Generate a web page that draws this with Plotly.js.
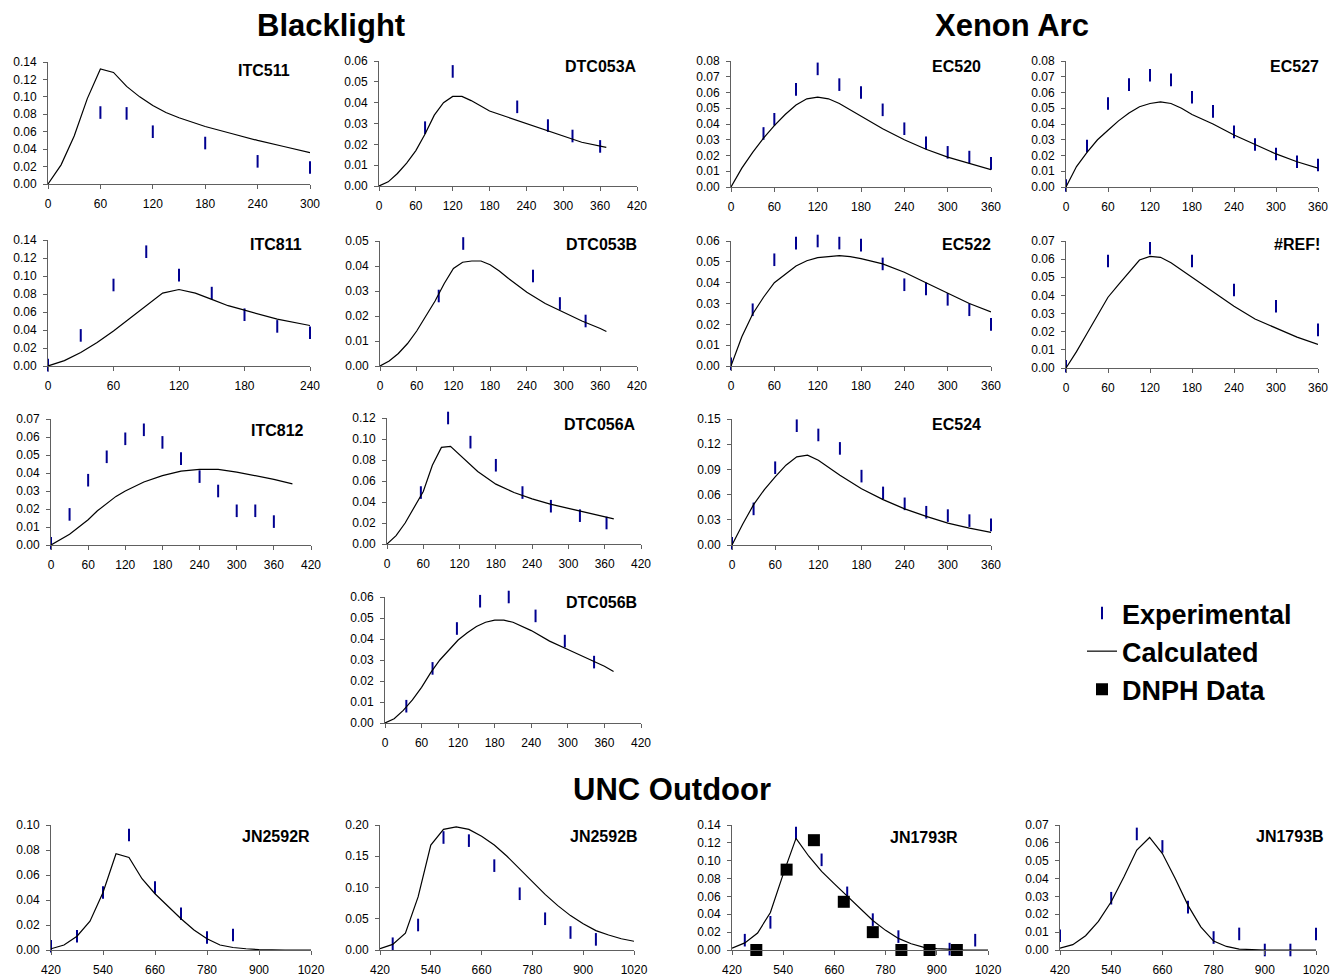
<!DOCTYPE html>
<html>
<head>
<meta charset="utf-8">
<script src="https://cdn.plot.ly/plotly-3.0.1.min.js"></script>
<style>html,body{margin:0;padding:0;background:#fff}#chart{width:1330px;height:977px}</style>
</head>
<body>
<div id="chart"></div>
<script>
// ---------------- DATA ----------------
// Blacklight
const ITC511_CALC_T = [0,15,30,45,60,75,90,105,120,135,150,180,210,240,270,300];
const ITC511_CALC   = [0,0.022,0.055,0.098,0.132,0.128,0.112,0.100,0.090,0.082,0.076,0.066,0.058,0.050,0.043,0.036];
const ITC511_EXP_T  = [60,90,120,180,240,300];
const ITC511_EXP    = [0.082,0.081,0.060,0.047,0.026,0.019];

const DTC053A_CALC_T = [0,15,30,45,60,75,90,105,120,135,150,180,210,240,270,300,330,370];
const DTC053A_CALC   = [0,0.002,0.006,0.011,0.017,0.025,0.034,0.040,0.043,0.043,0.041,0.036,0.033,0.030,0.027,0.024,0.021,0.0185];
const DTC053A_EXP_T  = [75,120,225,275,315,360];
const DTC053A_EXP    = [0.028,0.055,0.038,0.029,0.024,0.019];

const ITC811_CALC_T = [0,15,30,45,60,75,90,105,120,135,150,165,180,210,240];
const ITC811_CALC   = [0,0.006,0.015,0.026,0.039,0.053,0.068,0.081,0.085,0.081,0.074,0.067,0.062,0.052,0.045];
const ITC811_EXP_T  = [0,30,60,90,120,150,180,210,240];
const ITC811_EXP    = [0.001,0.034,0.090,0.127,0.101,0.081,0.057,0.044,0.037];

const DTC053B_CALC_T = [0,15,30,45,60,75,90,105,120,135,150,165,180,195,210,240,270,300,330,360,370];
const DTC053B_CALC   = [0,0.002,0.005,0.009,0.014,0.020,0.026,0.033,0.039,0.0415,0.042,0.042,0.0405,0.038,0.035,0.0295,0.025,0.0215,0.018,0.015,0.0138];
const DTC053B_EXP_T  = [96,136,250,294,336];
const DTC053B_EXP    = [0.028,0.049,0.036,0.025,0.018];

const ITC812_CALC_T = [0,15,30,45,60,75,90,105,120,150,180,210,240,270,300,330,360,390];
const ITC812_CALC   = [0,0.003,0.006,0.010,0.014,0.019,0.023,0.027,0.030,0.035,0.0385,0.041,0.042,0.042,0.0405,0.0385,0.0365,0.034];
const ITC812_EXP_T  = [0,30,60,90,120,150,180,210,240,270,300,330,360];
const ITC812_EXP    = [0.001,0.017,0.036,0.049,0.059,0.064,0.057,0.048,0.038,0.030,0.019,0.019,0.013];

const DTC056A_CALC_T = [0,15,30,45,60,75,90,105,120,135,150,180,210,240,270,300,330,360,375];
const DTC056A_CALC   = [0,0.008,0.020,0.035,0.050,0.075,0.092,0.093,0.085,0.077,0.069,0.057,0.049,0.043,0.038,0.034,0.030,0.026,0.024];
const DTC056A_EXP_T  = [56,101,138,180,224,271,319,363];
const DTC056A_EXP    = [0.049,0.120,0.097,0.075,0.049,0.036,0.027,0.020];

const DTC056B_CALC_T = [0,15,30,45,60,75,90,105,120,135,150,165,180,195,210,240,270,300,330,360,375];
const DTC056B_CALC   = [0,0.002,0.006,0.011,0.017,0.024,0.030,0.035,0.0395,0.043,0.046,0.048,0.049,0.049,0.048,0.044,0.039,0.035,0.031,0.027,0.0245];
const DTC056B_EXP_T  = [35,78,118,156,203,247,295,343];
const DTC056B_EXP    = [0.008,0.026,0.045,0.058,0.060,0.051,0.039,0.029];

// Xenon Arc
const EC520_CALC_T = [0,15,30,45,60,75,90,105,120,135,150,165,180,210,240,270,300,330,360];
const EC520_CALC   = [0,0.012,0.022,0.031,0.039,0.046,0.052,0.056,0.057,0.056,0.053,0.049,0.045,0.037,0.030,0.024,0.019,0.015,0.011];
const EC520_EXP_T  = [45,60,90,120,150,180,210,240,270,300,330,360];
const EC520_EXP    = [0.034,0.043,0.062,0.075,0.065,0.060,0.049,0.037,0.028,0.022,0.019,0.015];

const EC527_CALC_T = [0,15,30,45,60,75,90,105,120,135,150,165,180,210,240,270,300,330,360];
const EC527_CALC   = [0,0.013,0.022,0.030,0.036,0.042,0.047,0.051,0.053,0.054,0.053,0.050,0.046,0.040,0.033,0.027,0.021,0.016,0.012];
const EC527_EXP_T  = [0,30,60,90,120,150,180,210,240,270,300,330,360];
const EC527_EXP    = [0.001,0.026,0.053,0.065,0.071,0.068,0.057,0.048,0.035,0.027,0.021,0.016,0.014];

const EC522_CALC_T = [0,15,30,45,60,75,90,105,120,135,150,165,180,210,240,270,300,330,360];
const EC522_CALC   = [0,0.014,0.025,0.033,0.040,0.044,0.048,0.0505,0.052,0.0525,0.053,0.0525,0.0515,0.049,0.045,0.040,0.035,0.030,0.026];
const EC522_EXP_T  = [0,30,60,90,120,150,180,210,240,270,300,330,360];
const EC522_EXP    = [0.001,0.027,0.051,0.059,0.060,0.059,0.058,0.049,0.039,0.037,0.032,0.027,0.020];

const REF_CALC_T = [0,15,30,45,60,75,90,105,120,135,150,165,180,210,240,270,300,330,360];
const REF_CALC   = [0,0.009,0.019,0.029,0.039,0.046,0.053,0.0595,0.0615,0.061,0.058,0.054,0.050,0.042,0.034,0.027,0.022,0.017,0.013];
const REF_EXP_T  = [0,60,120,180,240,300,360];
const REF_EXP    = [0.001,0.059,0.066,0.059,0.043,0.034,0.021];

const EC524_CALC_T = [0,15,30,45,60,75,90,105,120,135,150,180,210,240,270,300,330,360];
const EC524_CALC   = [0,0.025,0.048,0.066,0.081,0.095,0.105,0.107,0.101,0.092,0.083,0.067,0.054,0.043,0.034,0.026,0.020,0.015];
const EC524_EXP_T  = [0,30,60,90,120,150,180,210,240,270,300,330,360];
const EC524_EXP    = [0.002,0.043,0.092,0.142,0.131,0.115,0.082,0.062,0.049,0.039,0.035,0.029,0.024];

// UNC Outdoor
const JN2592R_CALC_T = [420,450,480,510,540,570,600,630,660,690,720,750,780,810,840,870,900,960,1020];
const JN2592R_CALC   = [0.001,0.004,0.011,0.023,0.046,0.077,0.074,0.057,0.045,0.035,0.025,0.016,0.009,0.004,0.002,0.001,0.0003,0,0];
const JN2592R_EXP_T  = [420,480,540,600,660,720,780,840];
const JN2592R_EXP    = [0.003,0.011,0.046,0.092,0.050,0.029,0.010,0.012];

const JN2592B_CALC_T = [420,450,480,510,540,570,600,630,660,690,720,750,780,810,840,870,900,930,960,990,1020];
const JN2592B_CALC   = [0.002,0.009,0.027,0.085,0.168,0.193,0.197,0.193,0.182,0.168,0.150,0.130,0.109,0.089,0.071,0.055,0.042,0.031,0.024,0.018,0.014];
const JN2592B_EXP_T  = [450,510,570,630,690,750,810,870,930];
const JN2592B_EXP    = [0.010,0.040,0.180,0.175,0.135,0.090,0.050,0.028,0.017];

const JN1793R_CALC_T = [420,450,480,510,540,570,600,630,660,690,720,750,780,810,840,870,900,930,960,1020];
const JN1793R_CALC   = [0.002,0.008,0.019,0.042,0.085,0.125,0.105,0.088,0.074,0.060,0.046,0.033,0.022,0.013,0.007,0.003,0.0015,0.0005,0.0002,0];
const JN1793R_EXP_T  = [450,510,570,630,690,750,810,930,990];
const JN1793R_EXP    = [0.011,0.031,0.131,0.101,0.064,0.034,0.015,0.001,0.011];
const JN1793R_DNPH_T = [477,548,612,682,750,817,883,947];
const JN1793R_DNPH   = [0,0.090,0.123,0.054,0.020,0,0,0];

const JN1793B_CALC_T = [420,450,480,510,540,570,600,630,660,690,720,750,780,810,840,870,900,960,1020];
const JN1793B_CALC   = [0.001,0.003,0.008,0.016,0.027,0.041,0.056,0.063,0.054,0.040,0.025,0.013,0.005,0.002,0.0005,0.0001,0,0,0];
const JN1793B_EXP_T  = [420,540,600,660,720,780,840,900,960,1020];
const JN1793B_EXP    = [0.008,0.029,0.065,0.058,0.024,0.007,0.009,0,0,0.009];

const SECTION_TITLES = ['Blacklight','Xenon Arc','UNC Outdoor'];
const LEGEND_NAMES = ['Experimental','Calculated','DNPH Data'];

// ---------------- LAYOUT HELPERS ----------------
const W = 1330, H = 977;
const px = v => v / W;
const py = v => 1 - v / H;
const FONT = 'Liberation Sans, Arial, Helvetica, sans-serif';
const EXP_COLOR = '#000090';
const AXIS_COLOR = '#606060';

// box: [xLeft, xRight, yBottom, yTop] in pixels; title: [cx, cy] in pixels
const panels = [
  {n:'ITC511', cx:ITC511_CALC_T, cy:ITC511_CALC, ex:ITC511_EXP_T, ey:ITC511_EXP, box:[48,310,184,62], xr:[0,300], yr:[0,0.14], dy:0.02, t:[264,71]},
  {n:'DTC053A', cx:DTC053A_CALC_T, cy:DTC053A_CALC, ex:DTC053A_EXP_T, ey:DTC053A_EXP, box:[379,637,186,61], xr:[0,420], yr:[0,0.06], dy:0.01, t:[601,67]},
  {n:'EC520', cx:EC520_CALC_T, cy:EC520_CALC, ex:EC520_EXP_T, ey:EC520_EXP, box:[731,991,187,61], xr:[0,360], yr:[0,0.08], dy:0.01, t:[956,67]},
  {n:'EC527', cx:EC527_CALC_T, cy:EC527_CALC, ex:EC527_EXP_T, ey:EC527_EXP, box:[1066,1318,187,61], xr:[0,360], yr:[0,0.08], dy:0.01, t:[1294,67]},
  {n:'ITC811', cx:ITC811_CALC_T, cy:ITC811_CALC, ex:ITC811_EXP_T, ey:ITC811_EXP, box:[48,310,366,240], xr:[0,240], yr:[0,0.14], dy:0.02, t:[276,245]},
  {n:'DTC053B', cx:DTC053B_CALC_T, cy:DTC053B_CALC, ex:DTC053B_EXP_T, ey:DTC053B_EXP, box:[380,637,366,241], xr:[0,420], yr:[0,0.05], dy:0.01, t:[601,245]},
  {n:'EC522', cx:EC522_CALC_T, cy:EC522_CALC, ex:EC522_EXP_T, ey:EC522_EXP, box:[731,991,366,241], xr:[0,360], yr:[0,0.06], dy:0.01, t:[966,245]},
  {n:'#REF!', cx:REF_CALC_T, cy:REF_CALC, ex:REF_EXP_T, ey:REF_EXP, box:[1066,1318,368,241], xr:[0,360], yr:[0,0.07], dy:0.01, t:[1297,245]},
  {n:'ITC812', cx:ITC812_CALC_T, cy:ITC812_CALC, ex:ITC812_EXP_T, ey:ITC812_EXP, box:[51,311,545,419], xr:[0,420], yr:[0,0.07], dy:0.01, t:[277,430]},
  {n:'DTC056A', cx:DTC056A_CALC_T, cy:DTC056A_CALC, ex:DTC056A_EXP_T, ey:DTC056A_EXP, box:[387,641,544,418], xr:[0,420], yr:[0,0.12], dy:0.02, t:[600,424]},
  {n:'EC524', cx:EC524_CALC_T, cy:EC524_CALC, ex:EC524_EXP_T, ey:EC524_EXP, box:[732,991,545,419], xr:[0,360], yr:[0,0.15], dy:0.03, t:[956,424]},
  {n:'DTC056B', cx:DTC056B_CALC_T, cy:DTC056B_CALC, ex:DTC056B_EXP_T, ey:DTC056B_EXP, box:[385,641,723,597], xr:[0,420], yr:[0,0.06], dy:0.01, t:[601,602]},
  {n:'JN2592R', cx:JN2592R_CALC_T, cy:JN2592R_CALC, ex:JN2592R_EXP_T, ey:JN2592R_EXP, box:[51,311,950,825], xr:[420,1020], yr:[0,0.10], dy:0.02, t:[276,836], outdoor:true},
  {n:'JN2592B', cx:JN2592B_CALC_T, cy:JN2592B_CALC, ex:JN2592B_EXP_T, ey:JN2592B_EXP, box:[380,634,950,825], xr:[420,1020], yr:[0,0.20], dy:0.05, t:[604,836], outdoor:true},
  {n:'JN1793R', cx:JN1793R_CALC_T, cy:JN1793R_CALC, ex:JN1793R_EXP_T, ey:JN1793R_EXP, dx_:JN1793R_DNPH_T, dy_:JN1793R_DNPH, box:[732,988,950,825], xr:[420,1020], yr:[0,0.14], dy:0.02, t:[924,837], outdoor:true},
  {n:'JN1793B', cx:JN1793B_CALC_T, cy:JN1793B_CALC, ex:JN1793B_EXP_T, ey:JN1793B_EXP, box:[1060,1316,950,825], xr:[420,1020], yr:[0,0.07], dy:0.01, t:[1290,836], outdoor:true}
];

const traces = [];
const layout = {
  width: W, height: H,
  margin: {l:0, r:0, t:0, b:0, pad:0},
  paper_bgcolor: '#ffffff', plot_bgcolor: 'rgba(0,0,0,0)',
  font: {family: FONT, color: '#000'},
  showlegend: true,
  legend: {
    x: px(1082), y: py(589), xanchor: 'left', yanchor: 'top',
    font: {family: FONT, size: 27, weight: 'bold', color: '#000'},
    bgcolor: 'rgba(0,0,0,0)', borderwidth: 0, tracegroupgap: 0, itemwidth: 30
  },
  annotations: [],
  hovermode: false
};

panels.forEach((p, i) => {
  const k = i + 1;
  const xa = k === 1 ? 'x' : 'x' + k;
  const ya = k === 1 ? 'y' : 'y' + k;
  const xName = k === 1 ? 'xaxis' : 'xaxis' + k;
  const yName = k === 1 ? 'yaxis' : 'yaxis' + k;
  const [xl, xrp, yb, yt] = p.box;
  const common = {
    showgrid: false, zeroline: false, showline: true, linecolor: AXIS_COLOR, linewidth: 1,
    ticks: 'outside', ticklen: 4, tickcolor: AXIS_COLOR, tickwidth: 1,
    tickfont: {family: FONT, size: 12, color: '#000'}, fixedrange: true
  };
  layout[xName] = Object.assign({}, common, {
    domain: [px(xl), px(xrp)], anchor: ya, range: p.xr, autorange: false,
    tick0: p.outdoor ? 420 : 0, dtick: p.outdoor ? 120 : 60, tickformat: 'd',
    ticklabelstandoff: 5
  });
  layout[yName] = Object.assign({}, common, {
    domain: [py(yb), py(yt)], anchor: xa, range: p.yr, autorange: false,
    tick0: 0, dtick: p.dy, tickformat: '.2f', ticklabelstandoff: 4
  });
  traces.push({
    type: 'scatter', mode: 'markers', x: p.ex, y: p.ey, xaxis: xa, yaxis: ya,
    name: LEGEND_NAMES[0], legendgroup: 'exp', showlegend: i === 0, cliponaxis: false,
    marker: {symbol: 'line-ns-open', size: 9, color: EXP_COLOR, line: {width: 2, color: EXP_COLOR}}
  });
  traces.push({
    type: 'scatter', mode: 'lines', x: p.cx, y: p.cy, xaxis: xa, yaxis: ya,
    name: LEGEND_NAMES[1], legendgroup: 'calc', showlegend: i === 0, cliponaxis: false,
    line: {color: '#000', width: 1.2}
  });
  if (p.dx_) {
    traces.push({
      type: 'scatter', mode: 'markers', x: p.dx_, y: p.dy_, xaxis: xa, yaxis: ya,
      name: LEGEND_NAMES[2], legendgroup: 'dnph', showlegend: true, cliponaxis: false,
      marker: {symbol: 'square', size: 12, color: '#000'}
    });
  }
  layout.annotations.push({
    text: '<b>' + p.n + '</b>', xref: 'paper', yref: 'paper',
    x: px(p.t[0]), y: py(p.t[1]), xanchor: 'center', yanchor: 'middle', showarrow: false,
    font: {family: FONT, size: 16, color: '#000'}
  });
});

// Section titles
[[SECTION_TITLES[0], 331, 26], [SECTION_TITLES[1], 1012, 26], [SECTION_TITLES[2], 672, 789]].forEach(s => {
  layout.annotations.push({
    text: '<b>' + s[0] + '</b>', xref: 'paper', yref: 'paper',
    x: px(s[1]), y: py(s[2]), xanchor: 'center', yanchor: 'middle', showarrow: false,
    font: {family: FONT, size: 31, color: '#000'}
  });
});

Plotly.newPlot('chart', traces, layout, {staticPlot: true, displayModeBar: false});
</script>
</body>
</html>
